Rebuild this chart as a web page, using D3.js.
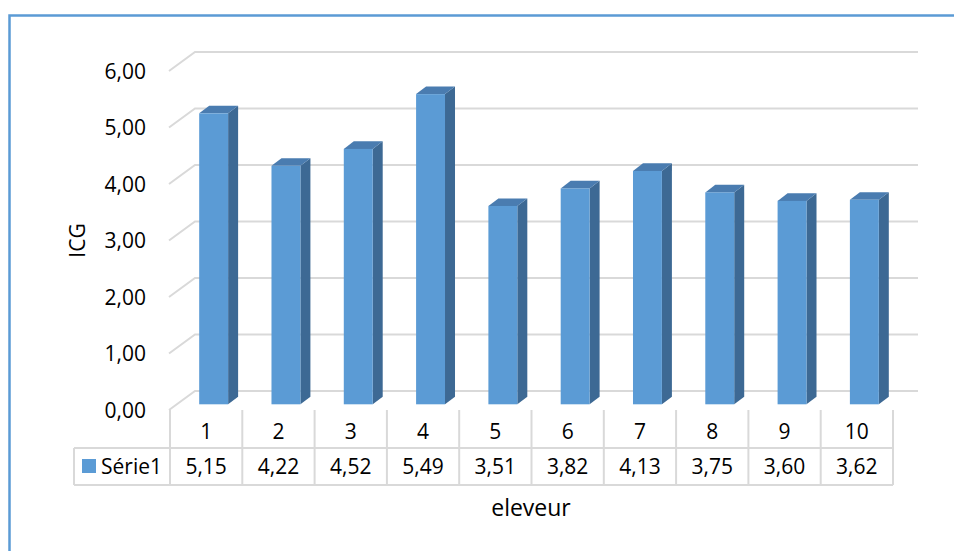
<!DOCTYPE html>
<html><head><meta charset="utf-8">
<script src="https://cdn.jsdelivr.net/npm/d3@7"></script>
<style>body{margin:0;background:#fff}svg{display:block}text{font-family:"Open Sans",sans-serif;fill:#000}</style>
</head><body><svg id="c" width="954" height="551"></svg>
<script>
const categories = ["1","2","3","4","5","6","7","8","9","10"];
const seriesName = "Série1";
const values = [5.15,4.22,4.52,5.49,3.51,3.82,4.13,3.75,3.60,3.62];
const tickValues = [0,1,2,3,4,5,6];
const yTitle = "ICG";
const xTitle = "eleveur";

const svg = d3.select("#c");
const fmt = v => d3.format(".2f")(v).replace(".", ",");
const DX = 25, DY = 19;
const x = d3.scaleBand().domain(categories).range([170, 893]).paddingInner(0).paddingOuter(0);
const y = d3.scaleLinear().domain([0, 6]).range([410, 71]);
const gridColor = "#d9d9d9";

// outer border
svg.append("rect").attr("x", 9.5).attr("y", 15.5).attr("width", 960).attr("height", 560)
  .attr("fill", "none").attr("stroke", "#5b9bd5").attr("stroke-width", 2.5);

// gridlines (side wall diagonal + back wall)
const g = svg.append("g");
tickValues.forEach(v => {
  const fy = y(v);
  g.append("path")
    .attr("d", `M${x.range()[0]-1},${fy} L${x.range()[0]+DX},${fy-DY} L${x.range()[1]+DX},${fy-DY}`)
    .attr("fill", "none").attr("stroke", gridColor).attr("stroke-width", 2);
});

// y tick labels
svg.append("g").selectAll("text").data(tickValues).join("text")
  .attr("x", 146).attr("y", d => y(d)).attr("dy", "0.36em")
  .attr("text-anchor", "end").attr("font-size", 21).text(d => fmt(d));

// y title
svg.append("text").attr("transform", `translate(85,${y(3)}) rotate(-90)`)
  .attr("text-anchor", "middle").attr("font-size", 21).text(yTitle);

// bars
const bw = x.bandwidth() / 2.5;
const z0 = 0.3, z1 = 0.7;
const bars = svg.append("g");
categories.forEach((c, i) => {
  const v = values[i];
  const cx = x(c) + x.bandwidth() / 2;
  const xl = cx - bw / 2 + z0 * DX, xr = cx + bw / 2 + z0 * DX;
  const yt = y(v) - z0 * DY, yb = y(0) - z0 * DY;
  const ddx = (z1 - z0) * DX, ddy = (z1 - z0) * DY;
  bars.append("path").attr("d", `M${xr},${yt} L${xr+ddx},${yt-ddy} L${xr+ddx},${yb-ddy} L${xr},${yb}Z`)
    .attr("fill", "#3d6994");
  bars.append("path").attr("d", `M${xl},${yt} L${xl+ddx},${yt-ddy} L${xr+ddx},${yt-ddy} L${xr},${yt}Z`)
    .attr("fill", "#4a7cb0");
  bars.append("rect").attr("x", xl).attr("y", yt).attr("width", xr - xl).attr("height", yb - yt)
    .attr("fill", "#5b9bd5");
});

// data table
const t = svg.append("g").attr("stroke", gridColor).attr("stroke-width", 2).attr("fill", "none");
const r1t = 410, r1b = 448, r2b = 485, legL = 74;
const bounds = categories.map(c => x(c)).concat([x.range()[1]]);
bounds.forEach(bx => t.append("line").attr("x1", bx).attr("x2", bx).attr("y1", r1t).attr("y2", r2b));
t.append("line").attr("x1", legL).attr("x2", x.range()[1]).attr("y1", r1b).attr("y2", r1b);
t.append("line").attr("x1", legL).attr("x2", x.range()[1]).attr("y1", r2b).attr("y2", r2b);
t.append("line").attr("x1", legL).attr("x2", legL).attr("y1", r1b).attr("y2", r2b);

svg.append("g").selectAll("text").data(categories).join("text")
  .attr("x", d => x(d) + x.bandwidth() / 2).attr("y", (r1t + r1b) / 2 + 2).attr("dy", "0.36em")
  .attr("text-anchor", "middle").attr("font-size", 21).text(d => d);
svg.append("g").selectAll("text").data(values).join("text")
  .attr("x", (d, i) => x(categories[i]) + x.bandwidth() / 2).attr("y", (r1b + r2b) / 2).attr("dy", "0.36em")
  .attr("text-anchor", "middle").attr("font-size", 21).text(d => fmt(d));

svg.append("rect").attr("x", 82).attr("y", 459).attr("width", 14).attr("height", 14).attr("fill", "#5b9bd5");
svg.append("text").attr("x", 101).attr("y", (r1b + r2b) / 2).attr("dy", "0.36em")
  .attr("font-size", 21).text(seriesName);

svg.append("text").attr("x", 531).attr("y", 508).attr("dy", "0.36em")
  .attr("text-anchor", "middle").attr("font-size", 23).text(xTitle);
</script></body></html>
